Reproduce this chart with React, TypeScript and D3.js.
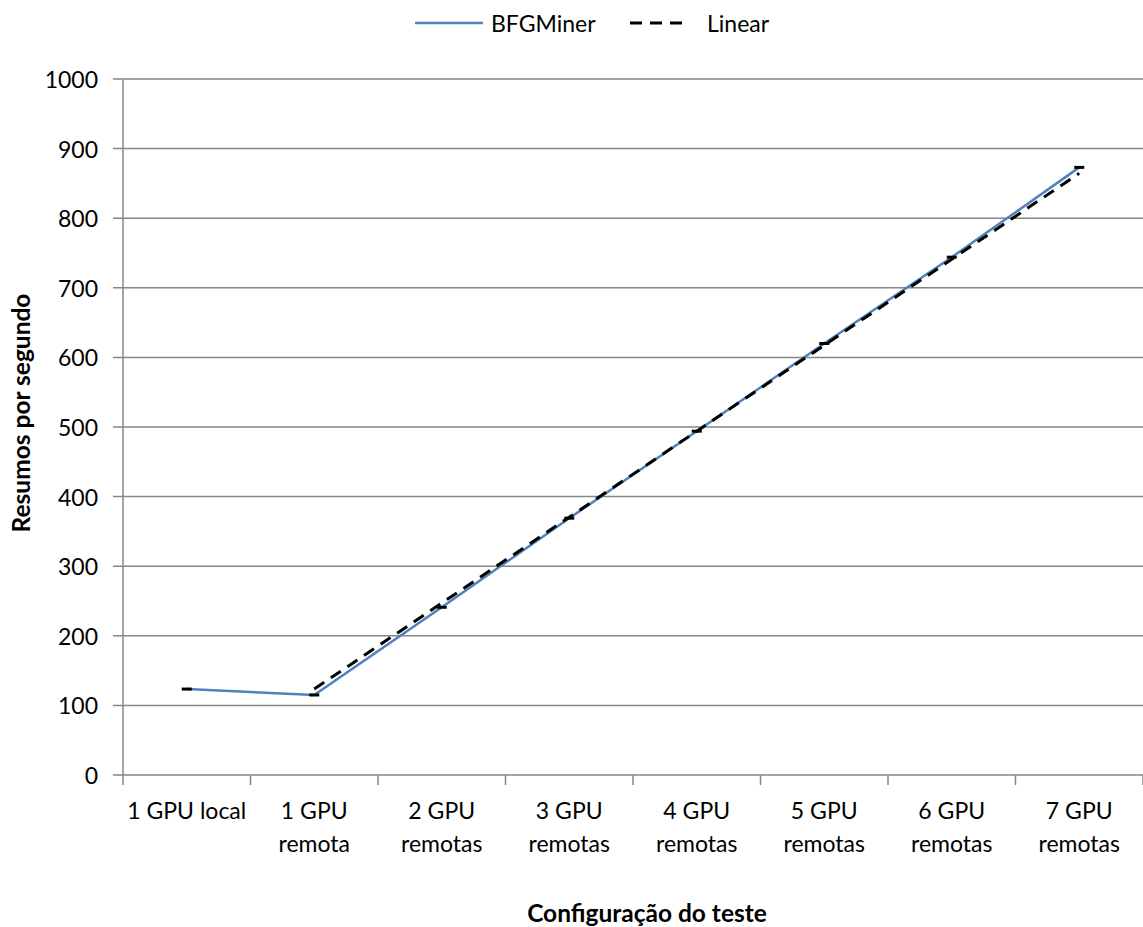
import React from "react";
import * as d3 from "d3";

const categories: string[][] = [
  ["1 GPU local"],
  ["1 GPU", "remota"],
  ["2 GPU", "remotas"],
  ["3 GPU", "remotas"],
  ["4 GPU", "remotas"],
  ["5 GPU", "remotas"],
  ["6 GPU", "remotas"],
  ["7 GPU", "remotas"],
];
const bfgMiner: number[] = [123.5, 115, 241, 369, 494, 620, 744, 873];
const linear: (number | null)[] = [null, 123.5, 247, 370.5, 494, 617.5, 741, 864.5];
const yTicks: number[] = [0, 100, 200, 300, 400, 500, 600, 700, 800, 900, 1000];
const seriesNames: string[] = ["BFGMiner", "Linear"];

const W = 1143;
const H = 927;
const left = 123;
const right = 1143;
const top = 79;
const bottom = 775;
const font = "Lato, 'Open Sans', sans-serif";
const grid = "#868686";
const blue = "#4F81BD";

export default function App() {
  const idx = categories.map((_, i) => i);
  const x = d3.scaleBand<number>().domain(idx).range([left, right]).padding(0);
  const y = d3.scaleLinear().domain([0, 1000]).range([bottom, top]);
  const cx = (i: number) => (x(i) as number) + x.bandwidth() / 2;

  const lineB = d3
    .line<number>()
    .x((_, i) => cx(i))
    .y((d) => y(d))(bfgMiner) as string;
  const lineL = d3
    .line<number | null>()
    .defined((d) => d !== null)
    .x((_, i) => cx(i))
    .y((d) => y(d as number))(linear) as string;

  const boundaries = idx.map((i) => x(i) as number).concat([right]);

  return (
    <svg
      width={W}
      height={H}
      style={{ position: "absolute", left: 0, top: 0, background: "#fff" }}
      fontFamily={font}
    >
      {/* legend */}
      <line x1={415} x2={483} y1={23} y2={23} stroke={blue} strokeWidth={2.5} />
      <text x={491} y={23} dominantBaseline="central" fontSize={23}>
        {seriesNames[0]}
      </text>
      <line x1={630} x2={690} y1={23} y2={23} stroke="#000" strokeWidth={3} strokeDasharray="12,8" />
      <text x={707} y={23} dominantBaseline="central" fontSize={23}>
        {seriesNames[1]}
      </text>

      {/* gridlines */}
      {yTicks.map((t) => (
        <line key={"g" + t} x1={left - 10} x2={right} y1={y(t)} y2={y(t)} stroke={grid} strokeWidth={1.5} />
      ))}
      {/* y axis */}
      <line x1={left} x2={left} y1={top} y2={bottom} stroke={grid} strokeWidth={1.5} />
      {yTicks.map((t) => (
        <text key={"yl" + t} x={98} y={y(t)} textAnchor="end" dominantBaseline="central" fontSize={23} fill="#000">
          {t}
        </text>
      ))}
      {/* x ticks */}
      {boundaries.map((b, i) => (
        <line key={"xt" + i} x1={b} x2={b} y1={bottom} y2={bottom + 10} stroke={grid} strokeWidth={1.5} />
      ))}
      {categories.map((c, i) =>
        c.map((s, j) => (
          <text
            key={"xl" + i + "-" + j}
            x={cx(i)}
            y={810 + j * 33}
            textAnchor="middle"
            dominantBaseline="central"
            fontSize={23}
            fill="#000"
          >
            {s}
          </text>
        ))
      )}
      {/* series */}
      <path d={lineB} fill="none" stroke={blue} strokeWidth={2.5} />
      <path d={lineL} fill="none" stroke="#000" strokeWidth={3} strokeDasharray="12,8" />
      {bfgMiner.map((v, i) => (
        <line key={"m" + i} x1={cx(i) - 5} x2={cx(i) + 5} y1={y(v)} y2={y(v)} stroke="#000" strokeWidth={3} />
      ))}
      {/* axis titles */}
      <text x={647} y={912} textAnchor="middle" dominantBaseline="central" fontSize={24.5} fontWeight="bold">
        Configuração do teste
      </text>
      <text
        transform={`translate(20,413) rotate(-90)`}
        textAnchor="middle"
        dominantBaseline="central"
        fontSize={24.5}
        fontWeight="bold"
      >
        Resumos por segundo
      </text>
    </svg>
  );
}
